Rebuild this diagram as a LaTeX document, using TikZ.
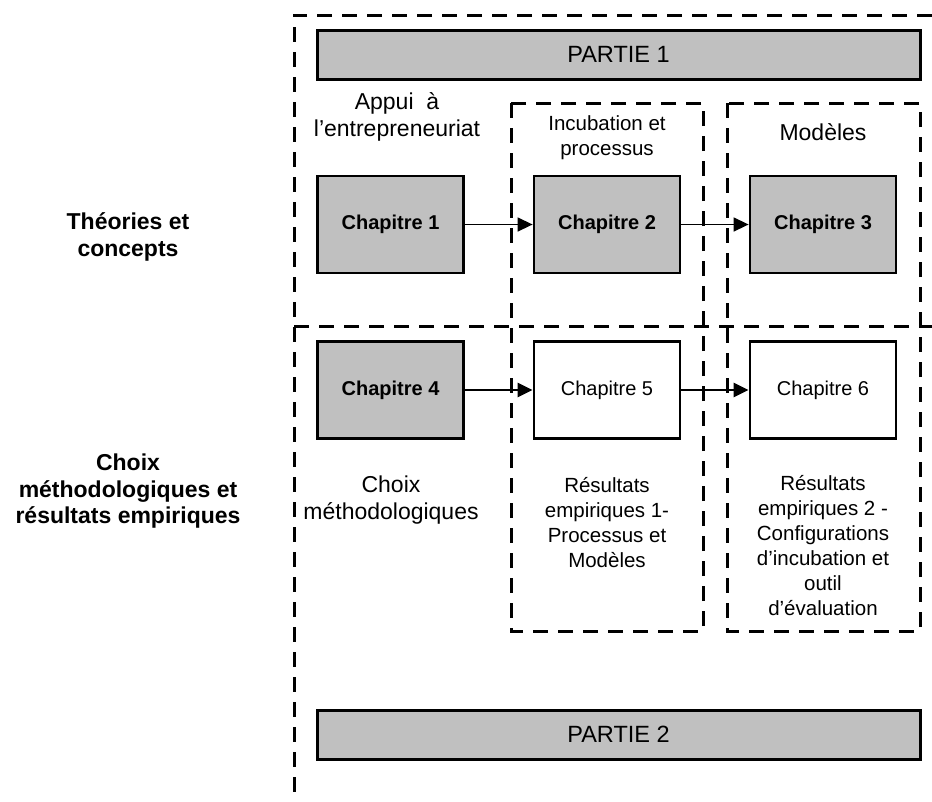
\documentclass[tikz,border=0pt]{standalone}
\usepackage{xcolor}
\usepackage{fontspec}
\setmainfont{Liberation Sans}
\usepackage{tikz}
\usetikzlibrary{arrows.meta,positioning}
\definecolor{gris}{HTML}{C0C0C0}

\begin{document}
\begin{tikzpicture}[x=1pt,y=-1pt,
        cadre/.style={line width=3pt,dash pattern=on 15pt off 10pt},
        chap/.style={draw,line width=2.8pt,minimum width=146pt,minimum height=97pt,inner sep=0pt},
        partie/.style={draw,line width=3pt,fill=gris,minimum width=603pt,minimum height=49pt,font=\fontsize{23.5}{27}\selectfont},
        fleche/.style={-{Triangle[length=15pt,width=14pt]}},
        texte/.style={align=center,font=\fontsize{20.5}{25}\selectfont},
        grand/.style={align=center,font=\fontsize{23}{27}\selectfont}]
        \useasboundingbox (0,0) rectangle (932,801);
        \node[partie] (partie1) at (618.5,54.5) {PARTIE 1};
        \node[partie] (partie2) at (618.5,734.5) {PARTIE 2};
        \foreach \n/\x in {1/390.5,2/607,3/823}{\node[chap,fill=gris,font=\bfseries\fontsize{20}{24}\selectfont] (ch\n) at (\x,224.5) {Chapitre \n};}
        \node[chap,fill=gris,font=\bfseries\fontsize{20}{24}\selectfont] (ch4) at (390.5,390) {Chapitre 4};
        \foreach \n/\x in {5/607,6/823}{\node[chap,fill=white,font=\fontsize{20}{24}\selectfont] (ch\n) at (\x,390) {Chapitre \n};}
        \draw[fleche,line width=1.4pt] (ch1) -- (ch2);
        \draw[fleche,line width=1.4pt] (ch2) -- (ch3);
        \draw[fleche,line width=2.6pt] (ch4) -- (ch5);
        \draw[fleche,line width=2.6pt] (ch5) -- (ch6);
        \draw[cadre] (932,15) -- (294,15) -- (294,801);
        \draw[cadre] (294,326) -- (932,326);
        \draw[cadre] (511,103) rectangle (703,631);
        \draw[cadre] (727,103) rectangle (920,631);
        \node[grand] (appui) at (397,116.5) {Appui\ \ à\\l’entrepreneuriat};
        \node[texte] (incub) at (607,137.5) {Incubation et\\processus};
        \node[grand] (modeles) at (823,132) {Modèles};
        \node[grand] (choix) at (391,500) {Choix\\méthodologiques};
        \node[texte] (res1) at (607,522.5) {Résultats\\empiriques 1-\\Processus et\\Modèles};
        \node[texte] (res2) at (823,546) {Résultats\\empiriques 2 -\\Configurations\\d’incubation et\\outil\\d’évaluation};
        \node[grand,font=\bfseries\fontsize{23}{27}\selectfont] (theories) at (128,236.5) {Théories et\\concepts};
        \node[grand,font=\bfseries\fontsize{23}{26.5}\selectfont] (choixres) at (128,491.5) {Choix\\méthodologiques et\\résultats empiriques};
    \end{tikzpicture}
\end{document}
